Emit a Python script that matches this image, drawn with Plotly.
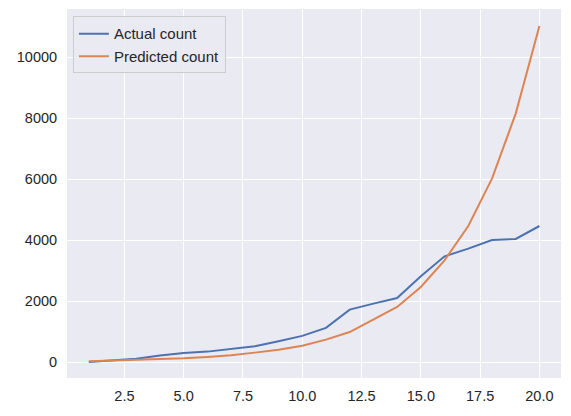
import plotly.graph_objects as go

days = list(range(1, 21))
actual = [10, 66, 120, 220, 305, 350, 437, 525, 690, 865, 1130, 1727,
          1924, 2108, 2820, 3475, 3728, 4010, 4043, 4469]
predicted = [33, 55, 77, 100, 131, 175, 230, 317, 415, 545, 744, 993,
             1400, 1813, 2469, 3344, 4469, 6023, 8154, 11026]

x_ticks = [2.5, 5, 7.5, 10, 12.5, 15, 17.5, 20]
x_labels = ["2.5", "5.0", "7.5", "10.0", "12.5", "15.0", "17.5", "20.0"]
y_ticks = [0, 2000, 4000, 6000, 8000, 10000]
y_labels = ["0", "2000", "4000", "6000", "8000", "10000"]

fig = go.Figure()
fig.add_trace(go.Scatter(x=days, y=actual, mode="lines", name="Actual count",
                         line=dict(color="#4c72b0", width=2)))
fig.add_trace(go.Scatter(x=days, y=predicted, mode="lines", name="Predicted count",
                         line=dict(color="#dd8452", width=2)))

# page body has an 8px default margin, so the figure is drawn 8px smaller
fig.update_layout(
    width=563, height=408,
    margin=dict(l=59, r=10, t=1, b=38),
    paper_bgcolor="white",
    plot_bgcolor="#eaeaf2",
    font=dict(family="Liberation Sans, Arial, sans-serif", size=14.5, color="#262626"),
    showlegend=True,
    legend=dict(x=0.012, y=0.98, xanchor="left", yanchor="top",
                bgcolor="rgba(234,234,242,0.8)", bordercolor="#cccccc", borderwidth=1,
                font=dict(size=15), itemwidth=30),
)
fig.update_xaxes(range=[0.08, 20.91], tickvals=x_ticks, ticktext=x_labels,
                 showgrid=True, gridcolor="white", gridwidth=1.3, zeroline=False,
                 showline=False, ticks="outside", ticklen=5, tickcolor="rgba(0,0,0,0)")
fig.update_yaxes(range=[-515, 11584], tickvals=y_ticks, ticktext=y_labels,
                 showgrid=True, gridcolor="white", gridwidth=1.3, zeroline=False,
                 showline=False, ticks="outside", ticklen=6, tickcolor="rgba(0,0,0,0)")

fig.write_html("out.html")
